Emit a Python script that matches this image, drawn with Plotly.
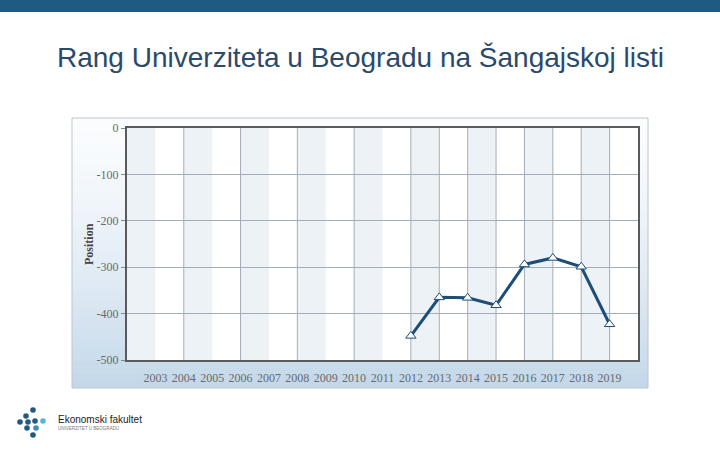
import plotly.graph_objects as go

# ---- data ----
years = [2012, 2013, 2014, 2015, 2016, 2017, 2018, 2019]
position = [-448, -365, -366, -382, -294, -280, -299, -423]
tick_years = list(range(2003, 2020))
tick_labels = [str(y) for y in tick_years]
y_ticks = [0, -100, -200, -300, -400, -500]
y_labels = ["0", "-100", "-200", "-300", "-400", "-500"]
grid_years = [2004, 2006, 2008, 2010, 2012, 2013, 2014, 2015, 2016, 2017, 2018, 2019]
band_starts = [2002, 2004, 2006, 2008, 2010, 2012, 2014, 2016, 2018]

W, H = 720, 450
def px(x):
    return x / W
def py(y):
    return 1 - y / H

fig = go.Figure()
fig.add_trace(go.Scatter(
    x=years, y=position, mode="lines+markers",
    line=dict(color="#1d4e79", width=3),
    marker=dict(symbol="triangle-up", size=9, color="white",
                line=dict(color="#1d4e79", width=1)),
    showlegend=False, hoverinfo="x+y"))

shapes = []
# top bar
shapes.append(dict(type="rect", xref="paper", yref="paper", x0=0, x1=1,
                   y0=py(12), y1=1, fillcolor="#1f5a82", line=dict(width=0), layer="below"))
# gradient box
bx0, bx1, by0, by1 = 72, 648, 118, 388
n = 40
def lerp(a, b, t):
    return int(round(a + (b - a) * t))
c_top = (250, 252, 254)
c_bot = (196, 216, 234)
for i in range(n):
    t = i / (n - 1)
    t2 = t ** 1.4
    col = "rgb(%d,%d,%d)" % tuple(lerp(c_top[k], c_bot[k], t2) for k in range(3))
    y0 = by0 + (by1 - by0) * i / n
    y1 = by0 + (by1 - by0) * (i + 1) / n
    shapes.append(dict(type="rect", xref="paper", yref="paper",
                       x0=px(bx0), x1=px(bx1), y0=py(y1), y1=py(y0) + 0.001,
                       fillcolor=col, line=dict(width=0), layer="below"))
shapes.append(dict(type="rect", xref="paper", yref="paper",
                   x0=px(bx0), x1=px(bx1), y0=py(by1), y1=py(by0),
                   fillcolor="rgba(0,0,0,0)", line=dict(color="#bfc6cc", width=1), layer="below"))
# plot area white
shapes.append(dict(type="rect", xref="x domain", yref="y domain", x0=0, x1=1, y0=0, y1=1,
                   fillcolor="white", line=dict(width=0), layer="below"))
# alternating bands
for s in band_starts:
    shapes.append(dict(type="rect", xref="x", yref="y domain", x0=s, x1=s + 1, y0=0, y1=1,
                       fillcolor="#edf2f7", line=dict(width=0), layer="below"))
# vertical gridlines
for g in grid_years:
    shapes.append(dict(type="line", xref="x", yref="y domain", x0=g, x1=g, y0=0, y1=1,
                       line=dict(color="#a3adb7", width=1), layer="below"))

# logo dots
dots = [(33, 410, "#1f5a82"), (26, 416, "#1f5a82"), (20, 422, "#1f5a82"),
        (28, 422, "#1f5a82"), (35, 421, "#1f5a82"), (43, 421, "#5ab4d6"),
        (27, 428, "#1f5a82"), (36, 428, "#3f8fb8"), (33, 435, "#1f5a82")]
r = 2.8
for (cx, cy, col) in dots:
    shapes.append(dict(type="circle", xref="paper", yref="paper",
                       x0=px(cx - r), x1=px(cx + r), y0=py(cy + r), y1=py(cy - r),
                       fillcolor=col, line=dict(width=0)))

annotations = [
    dict(text="Rang Univerziteta u Beogradu na Šangajskoj listi", xref="paper", yref="paper",
         x=px(360), y=py(57), showarrow=False, xanchor="center", yanchor="middle",
         font=dict(family="Liberation Sans, Arial, sans-serif", size=28, color="#2b4a6b")),
    dict(text="<b>Position</b>", xref="paper", yref="paper", x=px(89), y=py(244),
         showarrow=False, textangle=-90, xanchor="center", yanchor="middle",
         font=dict(family="Liberation Serif, Times New Roman, serif", size=12, color="#444")),
    dict(text="Ekonomski fakultet", xref="paper", yref="paper", x=px(56), y=py(419),
         showarrow=False, xanchor="left", yanchor="middle",
         font=dict(family="Liberation Sans, Arial, sans-serif", size=10, color="#222")),
    dict(text="UNIVERZITET U BEOGRADU", xref="paper", yref="paper", x=px(56), y=py(428),
         showarrow=False, xanchor="left", yanchor="middle",
         font=dict(family="Liberation Sans, Arial, sans-serif", size=4.5, color="#777")),
]

tickfont = dict(family="Liberation Serif, Times New Roman, serif", size=12, color="#6a6a6a")
fig.update_layout(
    width=W, height=H, margin=dict(l=0, r=0, t=0, b=0, autoexpand=False),
    paper_bgcolor="white", plot_bgcolor="rgba(0,0,0,0)",
    shapes=shapes, annotations=annotations,
    xaxis=dict(domain=[px(127), px(638)], range=[2002, 2020], automargin=False,
               tickvals=tick_years, ticktext=tick_labels, tickfont=tickfont,
               showgrid=False, zeroline=False, ticks="", ticklabelstandoff=6,
               showline=True, mirror=True, linecolor="#5a5a5a", linewidth=2),
    yaxis=dict(domain=[py(360), py(128)], range=[-500, 0], automargin=False,
               tickvals=y_ticks, ticktext=y_labels, tickfont=tickfont,
               showgrid=True, gridcolor="#a3adb7", gridwidth=1, zeroline=False,
               ticks="outside", ticklen=4, tickcolor="#888",
               showline=True, mirror=True, linecolor="#5a5a5a", linewidth=2),
)
post = "document.body.style.margin='0';document.body.style.padding='0';"
fig.write_html("out.html", config={"displayModeBar": False}, post_script=post)
